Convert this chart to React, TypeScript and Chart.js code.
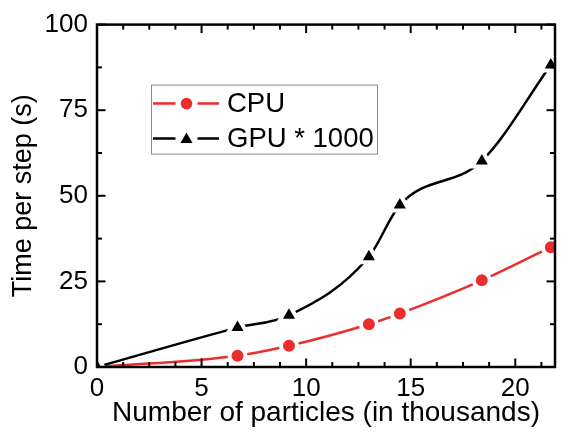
import React, { useEffect, useRef } from 'react';
import { Chart, registerables } from 'chart.js';

Chart.register(...registerables);

// Number of particles (thousands) and time per step for each run
const particles = [0, 6.72, 9.18, 13.0, 14.48, 18.4, 21.7];
const cpuTime = [0, 3.3, 6.2, 12.5, 15.6, 25.3, 35.0];
const gpuTime = [0, 11.5, 15.1, 32.2, 47.3, 60.2, 88.2];

const seriesNames = ['CPU', 'GPU * 1000'];
const seriesColors = ['#ec2d2d', '#000000'];
const seriesMarkers = ['circle', 'triangle'];

const xTickValues = [0, 5, 10, 15, 20];
const yTickValues = [0, 25, 50, 75, 100];
const xMinorStep = 1.25;
const yMinorStep = 12.5;

const FONT = "'Liberation Sans', Arial, Helvetica, sans-serif";

// Box frame with inward major/minor ticks on all four sides
const framePlugin = {
  id: 'frame',
  afterDatasetsDraw(chart: any) {
    const { ctx, chartArea: a, scales } = chart;
    const xs = scales.x;
    const ys = scales.y;
    ctx.save();
    ctx.strokeStyle = '#000';
    ctx.lineCap = 'butt';
    ctx.lineWidth = 2;
    const seg = (x0: number, y0: number, x1: number, y1: number) => {
      ctx.beginPath();
      ctx.moveTo(x0, y0);
      ctx.lineTo(x1, y1);
      ctx.stroke();
    };
    for (let k = 0; k * xMinorStep <= xs.max + 1e-9; k++) {
      const v = k * xMinorStep;
      const major = xTickValues.some((t) => Math.abs(t - v) < 1e-6);
      const len = major ? 8.5 : 5;
      const px = xs.getPixelForValue(v);
      seg(px, a.bottom, px, a.bottom - len);
      seg(px, a.top, px, a.top + len);
    }
    for (let k = 0; k * yMinorStep <= ys.max + 1e-9; k++) {
      const v = k * yMinorStep;
      const major = yTickValues.some((t) => Math.abs(t - v) < 1e-6);
      const len = major ? 8.5 : 5;
      const py = ys.getPixelForValue(v);
      seg(a.left, py, a.left + len, py);
      seg(a.right, py, a.right - len, py);
    }
    ctx.lineWidth = 2.5;
    ctx.lineJoin = 'miter';
    ctx.strokeRect(a.left, a.top, a.right - a.left, a.bottom - a.top);
    ctx.restore();
  },
};

// Legend box placed inside the plot area, line sample with a gap around the marker
const insetLegendPlugin = {
  id: 'insetLegend',
  afterDraw(chart: any) {
    const { ctx, chartArea: a } = chart;
    const left = a.left + 54;
    const top = a.top + 60;
    const w = 226;
    const h = 69;
    ctx.save();
    ctx.strokeStyle = '#8c8c8c';
    ctx.lineWidth = 1;
    ctx.strokeRect(left + 0.5, top + 0.5, w, h);
    chart.data.datasets.forEach((ds: any, i: number) => {
      const cy = top + 19 + i * 35;
      const cx = left + 35.5;
      ctx.strokeStyle = ds.borderColor;
      ctx.lineWidth = 2.5;
      ctx.beginPath();
      ctx.moveTo(left + 2, cy);
      ctx.lineTo(cx - 11, cy);
      ctx.moveTo(cx + 11, cy);
      ctx.lineTo(left + 68, cy);
      ctx.stroke();
      ctx.fillStyle = ds.backgroundColor;
      ctx.beginPath();
      if (ds.pointStyle === 'triangle') {
        const r = 7;
        const my = cy + 1;
        ctx.moveTo(cx, my - r);
        ctx.lineTo(cx + r * Math.sin((2 * Math.PI) / 3), my - r * Math.cos((2 * Math.PI) / 3));
        ctx.lineTo(cx + r * Math.sin((4 * Math.PI) / 3), my - r * Math.cos((4 * Math.PI) / 3));
        ctx.closePath();
      } else {
        ctx.arc(cx, cy, 5.8, 0, Math.PI * 2);
      }
      ctx.fill();
      ctx.fillStyle = '#000';
      ctx.font = `27.5px ${FONT}`;
      ctx.textAlign = 'left';
      ctx.textBaseline = 'middle';
      ctx.fillText(ds.label, left + 76, cy + 1);
    });
    ctx.restore();
  },
};

export default function App() {
  const canvasRef = useRef<HTMLCanvasElement | null>(null);

  useEffect(() => {
    if (!canvasRef.current) return;
    const series = [cpuTime, gpuTime];
    const chart = new Chart(canvasRef.current, {
      type: 'line',
      data: {
        datasets: series.map((values, i) => ({
          label: seriesNames[i],
          data: particles.map((p, j) => ({ x: p, y: values[j] })),
          order: series.length - i,
          borderColor: seriesColors[i],
          backgroundColor: seriesColors[i],
          borderWidth: 2.5,
          cubicInterpolationMode: 'monotone' as const,
          pointStyle: seriesMarkers[i] as any,
          pointRadius: seriesMarkers[i] === 'triangle' ? 11 : 8,
          pointBorderWidth: 4,
          pointBorderColor: '#ffffff',
          pointBackgroundColor: seriesColors[i],
          pointHoverRadius: seriesMarkers[i] === 'triangle' ? 11 : 8,
        })),
      },
      options: {
        responsive: false,
        animation: false,
        events: [],
        layout: { padding: { top: 22, right: 3, left: 0, bottom: 0 } },
        plugins: {
          legend: { display: false },
          tooltip: { enabled: false },
        },
        scales: {
          x: {
            type: 'linear',
            min: 0,
            max: 21.9,
            afterBuildTicks: (scale: any) => {
              scale.ticks = xTickValues.map((v) => ({ value: v }));
            },
            afterFit: (scale: any) => {
              scale.height = 71;
            },
            grid: { display: false, drawTicks: false },
            border: { display: false },
            ticks: {
              padding: 6,
              color: '#000',
              font: { family: FONT, size: 26 },
              maxRotation: 0,
            },
            title: {
              display: true,
              text: 'Number of particles (in thousands)',
              color: '#000',
              font: { family: FONT, size: 28 },
              padding: { top: 0, bottom: 8 },
            },
          },
          y: {
            type: 'linear',
            min: 0,
            max: 100,
            afterBuildTicks: (scale: any) => {
              scale.ticks = yTickValues.map((v) => ({ value: v }));
            },
            afterFit: (scale: any) => {
              scale.width = 97;
            },
            grid: { display: false, drawTicks: false },
            border: { display: false },
            ticks: {
              padding: 9,
              color: '#000',
              font: { family: FONT, size: 26 },
            },
            title: {
              display: true,
              text: 'Time per step (s)',
              color: '#000',
              font: { family: FONT, size: 27 },
              padding: { top: 7, bottom: 0 },
            },
          },
        },
      },
      plugins: [framePlugin, insetLegendPlugin],
    });
    return () => chart.destroy();
  }, []);

  return (
    <div style={{ position: 'absolute', left: 0, top: 0, width: 570, height: 438, background: '#fff' }}>
      <canvas ref={canvasRef} width={570} height={438} style={{ display: 'block' }} />
    </div>
  );
}
